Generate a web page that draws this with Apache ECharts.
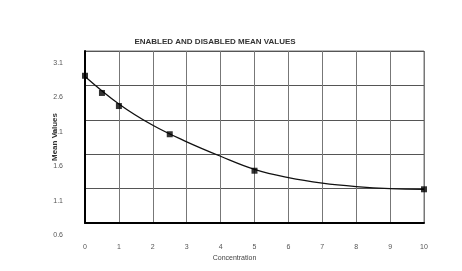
<!DOCTYPE html>
<html><head><meta charset="utf-8">
<script src="https://cdn.jsdelivr.net/npm/echarts@6/dist/echarts.min.js"></script>
<style>html,body{margin:0;padding:0;background:#fff}#c{width:462px;height:271px}</style>
</head><body><div id="c"></div>
<script>
var titleText = 'ENABLED AND DISABLED MEAN VALUES';
var xName = 'Concentration';
var yName = 'Mean Values';
var pointX = [0, 0.5, 1, 2.5, 5, 10];
var pointY = [2.74, 2.49, 2.30, 1.89, 1.36, 1.09];
var curveX = [0, 1, 2, 3, 4, 5, 6, 7, 8, 9, 10];
var curveY = [2.73, 2.33, 2.02, 1.78, 1.57, 1.38, 1.26, 1.18, 1.13, 1.10, 1.09];
var yTicks = [0.6, 1.1, 1.6, 2.1, 2.6, 3.1];

var chart = echarts.init(document.getElementById('c'), null, {renderer: 'canvas'});
chart.setOption({
  animation: false,
  backgroundColor: '#fff',
  title: {text: titleText, left: 210, top: 33, textAlign: 'center',
    textStyle: {fontSize: 8, fontWeight: 'bold', color: '#333', fontFamily: 'Liberation Sans'}},
  grid: {left: 85, right: 38, top: 51, bottom: 48, show: true, borderColor: '#777', borderWidth: 1},
  xAxis: {type: 'value', min: 0, max: 10, interval: 1,
    name: xName, nameLocation: 'middle', nameGap: 32, nameMoveOverlap: false,
    nameTextStyle: {fontSize: 7, color: '#444', padding: [0, 40, 0, 0], fontFamily: 'Liberation Sans'},
    axisLine: {show: true, onZero: false, lineStyle: {color: '#000', width: 2}},
    axisTick: {show: false},
    axisLabel: {fontSize: 7, color: '#555', margin: 21, fontFamily: 'Liberation Sans'},
    splitLine: {show: true, lineStyle: {color: '#777', width: 1}}},
  yAxis: {type: 'value', min: yTicks[0], max: yTicks[yTicks.length - 1], interval: 0.5,
    name: yName, nameLocation: 'middle', nameGap: 26, nameMoveOverlap: false,
    nameTextStyle: {fontSize: 8, color: '#333', fontWeight: 'bold', fontFamily: 'Liberation Sans'},
    axisLine: {show: true, onZero: false, lineStyle: {color: '#000', width: 2}},
    axisTick: {show: false},
    axisLabel: {fontSize: 7, color: '#555', margin: 22, verticalAlign: 'top', lineHeight: 24, fontFamily: 'Liberation Sans',
      formatter: function (v) { return (Math.round(v * 10) / 10).toFixed(1); }},
    splitLine: {show: true, lineStyle: {color: '#555', width: 1}}},
  series: [
    {type: 'line', data: curveX.map(function (x, i) { return [x, curveY[i]]; }),
      smooth: 0.4, showSymbol: false, lineStyle: {color: '#111', width: 1.3}, z: 3},
    {type: 'scatter', data: pointX.map(function (x, i) { return [x, pointY[i]]; }),
      symbol: 'rect', symbolSize: 6, itemStyle: {color: '#000'}, z: 4}
  ]
});
</script></body></html>
